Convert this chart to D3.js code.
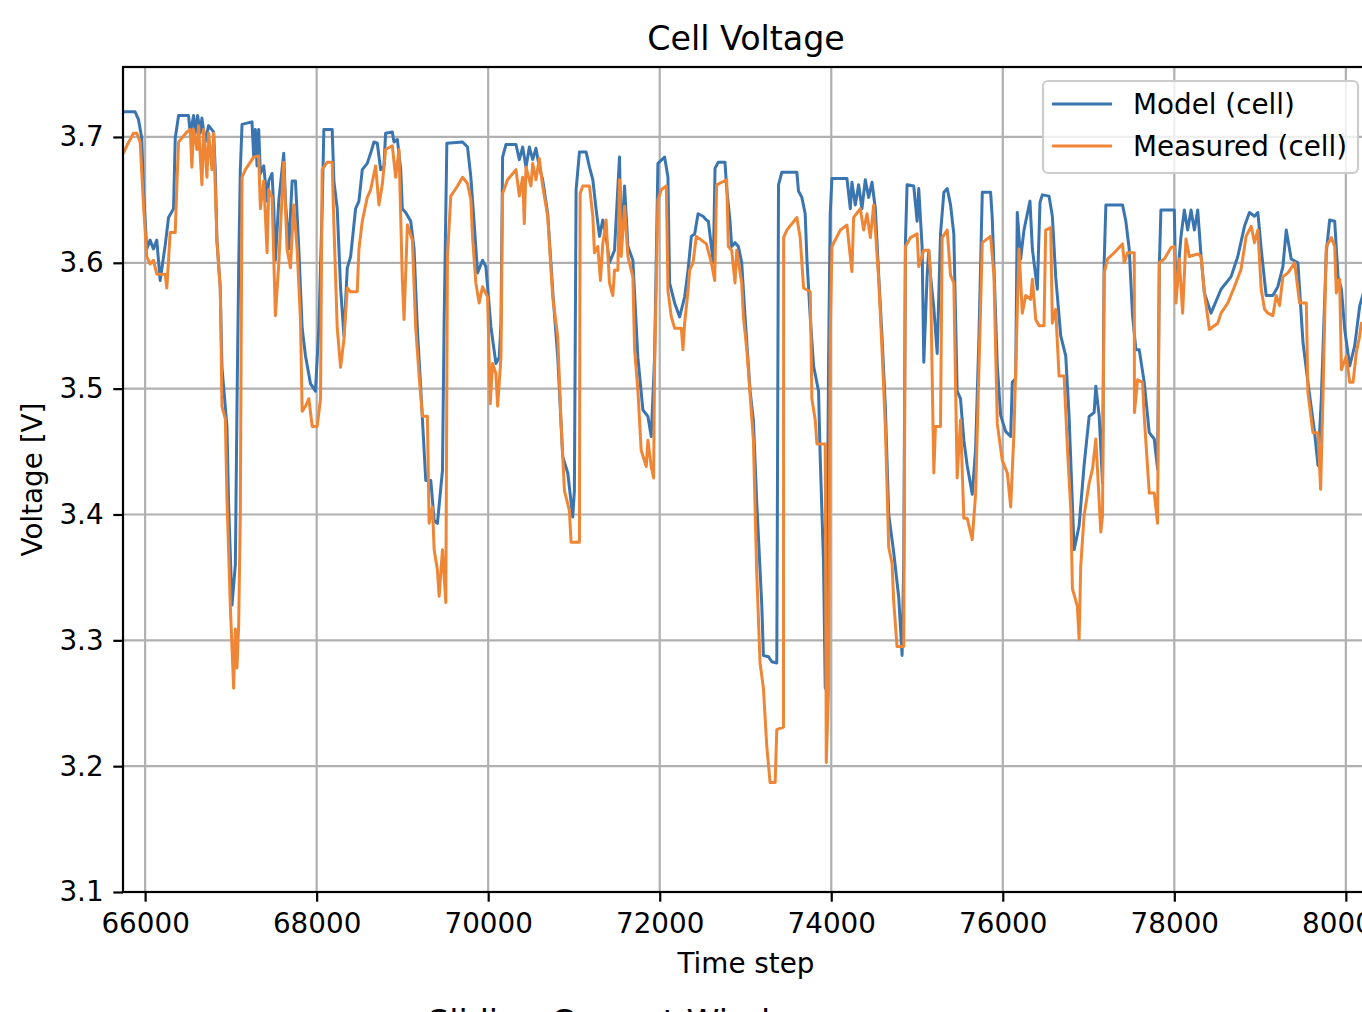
<!doctype html>
<html>
<head>
<meta charset="utf-8">
<style>
  body { margin: 0; background: #fff; }
  svg { display: block; font-family: "DejaVu Sans", sans-serif; }
</style>
</head>
<body>
  <script src="https://d3js.org/d3.v7.min.js"></script>
  <svg id="chart" width="1362" height="1012"></svg>

  <script>
  // [time step, voltage]
  const modelCell = [
    [65747,3.720],[65883,3.720],[65922,3.714],[65961,3.699],[65981,3.658],[66019,3.611],[66058,3.618],[66097,3.611],
    [66136,3.618],[66175,3.586],[66234,3.614],[66273,3.636],[66331,3.643],[66351,3.699],[66390,3.717],[66506,3.717],
    [66526,3.703],[66565,3.717],[66584,3.703],[66612,3.717],[66643,3.703],[66662,3.715],[66701,3.696],[66740,3.709],
    [66798,3.704],[66818,3.674],[66837,3.618],[66876,3.580],[66896,3.517],[66954,3.470],[66974,3.407],[67013,3.328],
    [67052,3.360],[67071,3.486],[67091,3.596],[67110,3.674],[67130,3.710],[67246,3.712],[67266,3.684],[67285,3.706],
    [67305,3.677],[67324,3.706],[67344,3.671],[67383,3.677],[67422,3.649],[67441,3.665],[67480,3.671],[67500,3.643],
    [67519,3.602],[67558,3.649],[67616,3.687],[67636,3.649],[67675,3.611],[67714,3.665],[67753,3.665],[67792,3.611],
    [67831,3.548],[67870,3.526],[67928,3.504],[67986,3.498],[68025,3.548],[68064,3.643],[68084,3.706],[68181,3.706],
    [68201,3.665],[68240,3.643],[68279,3.580],[68318,3.542],[68357,3.596],[68396,3.605],[68454,3.643],[68493,3.649],
    [68532,3.674],[68590,3.679],[68629,3.687],[68668,3.696],[68707,3.695],[68746,3.674],[68785,3.677],[68804,3.703],
    [68882,3.704],[68902,3.696],[68941,3.698],[68980,3.674],[68999,3.643],[69038,3.640],[69097,3.633],[69136,3.611],
    [69174,3.548],[69213,3.501],[69272,3.427],[69331,3.427],[69370,3.395],[69408,3.393],[69467,3.435],[69486,3.552],
    [69518,3.695],[69701,3.696],[69759,3.692],[69798,3.668],[69837,3.631],[69876,3.592],[69934,3.602],[69973,3.597],
    [69993,3.581],[70032,3.549],[70090,3.520],[70129,3.525],[70149,3.552],[70168,3.684],[70207,3.694],[70324,3.694],
    [70363,3.682],[70402,3.692],[70441,3.676],[70480,3.692],[70519,3.682],[70557,3.691],[70596,3.676],[70635,3.666],
    [70694,3.639],[70752,3.578],[70811,3.525],[70869,3.446],[70928,3.433],[70986,3.398],[71005,3.419],[71025,3.658],
    [71064,3.688],[71142,3.688],[71181,3.676],[71220,3.666],[71259,3.642],[71298,3.621],[71336,3.634],[71375,3.621],
    [71414,3.600],[71473,3.610],[71531,3.684],[71551,3.613],[71590,3.661],[71629,3.613],[71687,3.602],[71745,3.525],
    [71804,3.483],[71862,3.478],[71901,3.462],[71940,3.525],[71979,3.679],[72057,3.684],[72096,3.668],[72115,3.584],
    [72174,3.568],[72232,3.557],[72291,3.573],[72330,3.594],[72369,3.621],[72408,3.623],[72447,3.639],[72505,3.637],
    [72544,3.634],[72567,3.633],[72625,3.600],[72645,3.675],[72683,3.680],[72761,3.680],[72781,3.659],[72820,3.633],
    [72839,3.613],[72878,3.616],[72917,3.613],[72956,3.600],[72995,3.557],[73054,3.498],[73092,3.475],[73131,3.410],
    [73190,3.328],[73209,3.288],[73268,3.287],[73307,3.283],[73365,3.282],[73373,3.426],[73385,3.662],[73424,3.672],
    [73599,3.672],[73618,3.657],[73657,3.652],[73696,3.639],[73716,3.603],[73755,3.557],[73794,3.518],[73852,3.498],
    [73871,3.446],[73910,3.361],[73930,3.262],[73949,3.328],[73969,3.525],[73988,3.639],[74008,3.667],[74183,3.667],
    [74222,3.643],[74241,3.664],[74280,3.646],[74319,3.662],[74358,3.643],[74397,3.666],[74436,3.652],[74475,3.664],
    [74514,3.643],[74553,3.590],[74592,3.541],[74631,3.485],[74670,3.400],[74728,3.370],[74787,3.334],[74826,3.288],
    [74845,3.361],[74865,3.616],[74884,3.662],[74962,3.661],[75001,3.633],[75020,3.659],[75059,3.613],[75079,3.521],
    [75118,3.590],[75137,3.610],[75157,3.590],[75196,3.564],[75235,3.528],[75274,3.623],[75313,3.656],[75352,3.659],
    [75391,3.646],[75429,3.623],[75468,3.498],[75507,3.492],[75546,3.459],[75585,3.439],[75644,3.416],[75683,3.452],
    [75722,3.541],[75761,3.656],[75858,3.656],[75877,3.636],[75897,3.597],[75936,3.518],[75975,3.479],[76033,3.466],
    [76092,3.462],[76111,3.505],[76150,3.508],[76169,3.640],[76208,3.603],[76247,3.626],[76317,3.649],[76345,3.611],
    [76403,3.579],[76434,3.648],[76461,3.654],[76539,3.653],[76578,3.637],[76617,3.589],[76676,3.542],[76734,3.526],
    [76773,3.478],[76832,3.372],[76890,3.391],[76948,3.439],[77007,3.478],[77065,3.481],[77085,3.502],[77124,3.478],
    [77163,3.425],[77182,3.600],[77202,3.646],[77396,3.646],[77435,3.633],[77474,3.611],[77513,3.558],[77552,3.531],
    [77591,3.531],[77649,3.505],[77708,3.465],[77766,3.460],[77805,3.436],[77825,3.597],[77844,3.642],[78000,3.642],
    [78019,3.574],[78078,3.621],[78117,3.642],[78156,3.626],[78195,3.642],[78234,3.626],[78273,3.642],[78312,3.605],
    [78351,3.576],[78428,3.560],[78545,3.579],[78662,3.589],[78740,3.605],[78818,3.629],[78876,3.640],[78935,3.637],
    [78974,3.640],[79013,3.611],[79071,3.574],[79149,3.574],[79207,3.581],[79266,3.597],[79305,3.626],[79363,3.603],
    [79441,3.600],[79500,3.537],[79558,3.505],[79636,3.465],[79675,3.439],[79714,3.492],[79772,3.608],[79811,3.634],
    [79870,3.633],[79909,3.589],[79948,3.579],[79987,3.547],[80045,3.518],[80103,3.534],[80162,3.566],[80205,3.576]
  ];

  const measuredCell = [
    [65747,3.687],[65786,3.693],[65864,3.703],[65903,3.703],[65942,3.696],[65981,3.646],[66019,3.605],[66058,3.599],
    [66097,3.602],[66136,3.591],[66234,3.591],[66253,3.580],[66292,3.624],[66351,3.624],[66370,3.662],[66390,3.696],
    [66487,3.704],[66526,3.706],[66545,3.676],[66565,3.706],[66604,3.690],[66623,3.709],[66662,3.662],[66682,3.706],
    [66721,3.668],[66740,3.703],[66779,3.674],[66798,3.703],[66837,3.618],[66876,3.580],[66896,3.486],[66935,3.476],
    [66954,3.413],[66993,3.328],[67032,3.262],[67052,3.309],[67071,3.278],[67091,3.313],[67110,3.401],[67130,3.668],
    [67169,3.674],[67266,3.684],[67324,3.685],[67344,3.643],[67383,3.665],[67422,3.608],[67441,3.658],[67480,3.652],
    [67519,3.558],[67558,3.599],[67616,3.680],[67655,3.611],[67694,3.596],[67733,3.646],[67772,3.611],[67811,3.555],
    [67831,3.482],[67870,3.486],[67909,3.492],[67948,3.470],[68006,3.470],[68045,3.492],[68064,3.674],[68123,3.680],
    [68181,3.680],[68201,3.630],[68240,3.548],[68279,3.517],[68318,3.539],[68357,3.580],[68396,3.577],[68473,3.577],
    [68493,3.611],[68532,3.633],[68590,3.652],[68629,3.658],[68688,3.677],[68726,3.646],[68765,3.662],[68804,3.690],
    [68882,3.693],[68921,3.668],[68960,3.690],[68999,3.586],[69019,3.555],[69058,3.630],[69116,3.618],[69155,3.548],
    [69194,3.511],[69233,3.478],[69291,3.478],[69311,3.393],[69350,3.406],[69370,3.372],[69408,3.356],[69428,3.335],
    [69467,3.372],[69506,3.330],[69525,3.605],[69564,3.653],[69642,3.661],[69701,3.668],[69759,3.663],[69798,3.650],
    [69817,3.621],[69856,3.584],[69895,3.568],[69934,3.581],[69993,3.573],[70024,3.488],[70051,3.520],[70090,3.512],
    [70110,3.486],[70149,3.525],[70168,3.655],[70226,3.666],[70324,3.674],[70363,3.653],[70402,3.668],[70421,3.631],
    [70441,3.676],[70499,3.661],[70519,3.679],[70557,3.666],[70596,3.683],[70635,3.661],[70694,3.637],[70752,3.573],
    [70811,3.541],[70850,3.472],[70889,3.419],[70947,3.403],[70966,3.378],[71064,3.378],[71072,3.655],[71103,3.661],
    [71181,3.661],[71220,3.637],[71239,3.608],[71278,3.613],[71309,3.586],[71336,3.615],[71375,3.634],[71414,3.584],
    [71453,3.574],[71473,3.594],[71512,3.594],[71531,3.666],[71551,3.605],[71590,3.645],[71629,3.605],[71687,3.589],
    [71707,3.531],[71745,3.499],[71784,3.451],[71843,3.438],[71862,3.459],[71901,3.438],[71929,3.429],[71940,3.517],
    [71979,3.650],[72018,3.658],[72077,3.661],[72096,3.578],[72135,3.557],[72174,3.548],[72252,3.548],[72271,3.531],
    [72291,3.552],[72330,3.578],[72349,3.594],[72388,3.600],[72427,3.621],[72486,3.618],[72544,3.615],[72602,3.600],
    [72641,3.586],[72664,3.662],[72781,3.666],[72800,3.613],[72839,3.610],[72878,3.584],[72898,3.610],[72956,3.584],
    [72976,3.557],[73015,3.531],[73054,3.495],[73092,3.459],[73131,3.354],[73170,3.282],[73209,3.262],[73248,3.216],
    [73287,3.187],[73346,3.187],[73365,3.229],[73443,3.231],[73445,3.620],[73482,3.626],[73599,3.636],[73638,3.620],
    [73677,3.580],[73755,3.577],[73774,3.492],[73813,3.475],[73833,3.456],[73930,3.456],[73942,3.203],[73969,3.262],
    [73988,3.541],[74008,3.613],[74105,3.626],[74183,3.630],[74241,3.593],[74261,3.636],[74339,3.643],[74378,3.626],
    [74417,3.639],[74456,3.620],[74495,3.646],[74553,3.587],[74592,3.531],[74631,3.469],[74670,3.374],[74709,3.361],
    [74728,3.331],[74767,3.295],[74845,3.295],[74865,3.613],[74923,3.620],[75001,3.623],[75020,3.597],[75079,3.610],
    [75137,3.610],[75157,3.590],[75196,3.433],[75215,3.470],[75274,3.470],[75293,3.620],[75352,3.626],[75391,3.590],
    [75429,3.584],[75468,3.429],[75507,3.475],[75546,3.397],[75585,3.397],[75644,3.380],[75683,3.416],[75722,3.515],
    [75761,3.616],[75858,3.621],[75897,3.590],[75936,3.472],[75994,3.443],[76053,3.433],[76092,3.406],[76131,3.466],
    [76189,3.611],[76228,3.560],[76267,3.574],[76325,3.571],[76345,3.587],[76384,3.555],[76423,3.550],[76481,3.550],
    [76500,3.626],[76559,3.628],[76578,3.552],[76617,3.563],[76656,3.510],[76715,3.510],[76754,3.452],[76793,3.404],
    [76812,3.341],[76870,3.327],[76890,3.301],[76909,3.359],[76948,3.399],[77007,3.425],[77046,3.436],[77085,3.460],
    [77104,3.436],[77143,3.386],[77163,3.399],[77182,3.592],[77221,3.603],[77299,3.608],[77396,3.615],[77416,3.600],
    [77455,3.608],[77533,3.608],[77535,3.481],[77572,3.507],[77630,3.505],[77649,3.478],[77708,3.417],[77766,3.417],
    [77805,3.393],[77825,3.600],[77883,3.603],[77961,3.612],[78000,3.613],[78019,3.568],[78058,3.603],[78097,3.560],
    [78136,3.619],[78175,3.605],[78273,3.607],[78312,3.605],[78351,3.576],[78409,3.547],[78506,3.552],[78545,3.560],
    [78623,3.568],[78701,3.581],[78779,3.595],[78837,3.621],[78896,3.629],[78935,3.616],[78974,3.626],[79013,3.579],
    [79052,3.563],[79091,3.560],[79149,3.558],[79188,3.574],[79227,3.566],[79266,3.589],[79325,3.592],[79403,3.600],
    [79461,3.568],[79539,3.568],[79558,3.497],[79616,3.465],[79675,3.465],[79706,3.420],[79733,3.492],[79772,3.613],
    [79831,3.620],[79870,3.613],[79889,3.576],[79928,3.587],[79948,3.515],[80006,3.526],[80045,3.505],[80084,3.505],
    [80123,3.529],[80162,3.542],[80181,3.552],[80205,3.552]
  ];

  const xTicks = d3.range(66000, 80001, 2000);
  const yTicks = [3.1, 3.2, 3.3, 3.4, 3.5, 3.6, 3.7];
  const seriesNames = ['Model (cell)', 'Measured (cell)'];
  const colors = ['#3a75b0', '#ef8636'];

  const margin = { left: 123, top: 67, right: 1369, bottom: 892 };
  const fontPx = 27.8;
  const lineW = 3;

  const svg = d3.select('#chart');

  const xScale = d3.scaleLinear()
    .domain([65742, 80270])
    .range([margin.left, margin.right]);

  const yScale = d3.scaleLinear()
    .domain([3.1, 3.7556])
    .range([margin.bottom, margin.top]);

  svg.append('defs').append('clipPath')
    .attr('id', 'plot-clip')
    .append('rect')
    .attr('x', margin.left)
    .attr('y', margin.top)
    .attr('width', margin.right - margin.left)
    .attr('height', margin.bottom - margin.top);

  // grid
  const grid = svg.append('g')
    .attr('stroke', '#b0b0b0')
    .attr('stroke-width', 2.2);
  grid.selectAll('line.gx')
    .data(xTicks)
    .enter().append('line')
    .attr('x1', d => xScale(d)).attr('x2', d => xScale(d))
    .attr('y1', margin.top).attr('y2', margin.bottom);
  grid.selectAll('line.gy')
    .data(yTicks)
    .enter().append('line')
    .attr('x1', margin.left).attr('x2', margin.right)
    .attr('y1', d => yScale(d)).attr('y2', d => yScale(d));

  // series
  const line = d3.line()
    .x(d => xScale(d[0]))
    .y(d => yScale(d[1]));

  svg.append('g')
    .attr('clip-path', 'url(#plot-clip)')
    .selectAll('path')
    .data([modelCell, measuredCell])
    .enter().append('path')
    .attr('d', line)
    .attr('fill', 'none')
    .attr('stroke', (d, i) => colors[i])
    .attr('stroke-width', lineW)
    .attr('stroke-linejoin', 'round');

  // axes
  const xAxis = d3.axisBottom(xScale)
    .tickValues(xTicks)
    .tickFormat(d3.format('d'))
    .tickSizeInner(9.7)
    .tickSizeOuter(0)
    .tickPadding(11.5);

  const yAxis = d3.axisLeft(yScale)
    .tickValues(yTicks)
    .tickFormat(d3.format('.1f'))
    .tickSizeInner(9.7)
    .tickSizeOuter(0)
    .tickPadding(9.7);

  const styleAxis = g => {
    g.select('.domain').remove();
    g.selectAll('line').attr('stroke', '#000').attr('stroke-width', 2.2);
    g.selectAll('text')
      .attr('fill', '#000')
      .style('font-size', fontPx + 'px')
      .style('font-family', '"DejaVu Sans", sans-serif');
  };

  svg.append('g')
    .attr('transform', `translate(0,${margin.bottom})`)
    .call(xAxis)
    .call(styleAxis);

  svg.append('g')
    .attr('transform', `translate(${margin.left},0)`)
    .call(yAxis)
    .call(styleAxis);

  // spines
  svg.append('rect')
    .attr('x', margin.left)
    .attr('y', margin.top)
    .attr('width', margin.right - margin.left)
    .attr('height', margin.bottom - margin.top)
    .attr('fill', 'none')
    .attr('stroke', '#000')
    .attr('stroke-width', 2.2);

  // titles and labels
  const cx = (margin.left + margin.right) / 2;

  svg.append('text')
    .attr('x', cx).attr('y', 50)
    .attr('text-anchor', 'middle')
    .style('font-size', '33.3px')
    .text('Cell Voltage');

  svg.append('text')
    .attr('x', cx).attr('y', 973)
    .attr('text-anchor', 'middle')
    .style('font-size', fontPx + 'px')
    .text('Time step');

  svg.append('text')
    .attr('transform', `translate(42,${(margin.top + margin.bottom) / 2}) rotate(-90)`)
    .attr('text-anchor', 'middle')
    .style('font-size', fontPx + 'px')
    .text('Voltage [V]');

  // title of the next subplot, cut off by the page edge
  svg.append('text')
    .attr('x', 428).attr('y', 1034)
    .style('font-size', '33.3px')
    .text('Sliding Current Window');

  // legend
  const legend = svg.append('g');
  legend.append('rect')
    .attr('x', 1043).attr('y', 81)
    .attr('width', 315).attr('height', 92)
    .attr('rx', 5)
    .attr('fill', '#fff')
    .attr('fill-opacity', 0.8)
    .attr('stroke', '#cccccc')
    .attr('stroke-width', 2.2);

  const items = legend.selectAll('g.item')
    .data(seriesNames)
    .enter().append('g')
    .attr('transform', (d, i) => `translate(0,${104 + i * 42})`);

  items.append('line')
    .attr('x1', 1052).attr('x2', 1112)
    .attr('stroke', (d, i) => colors[i])
    .attr('stroke-width', lineW);

  items.append('text')
    .attr('x', 1133).attr('y', 10)
    .style('font-size', fontPx + 'px')
    .text(d => d);
  </script>
</body>
</html>
